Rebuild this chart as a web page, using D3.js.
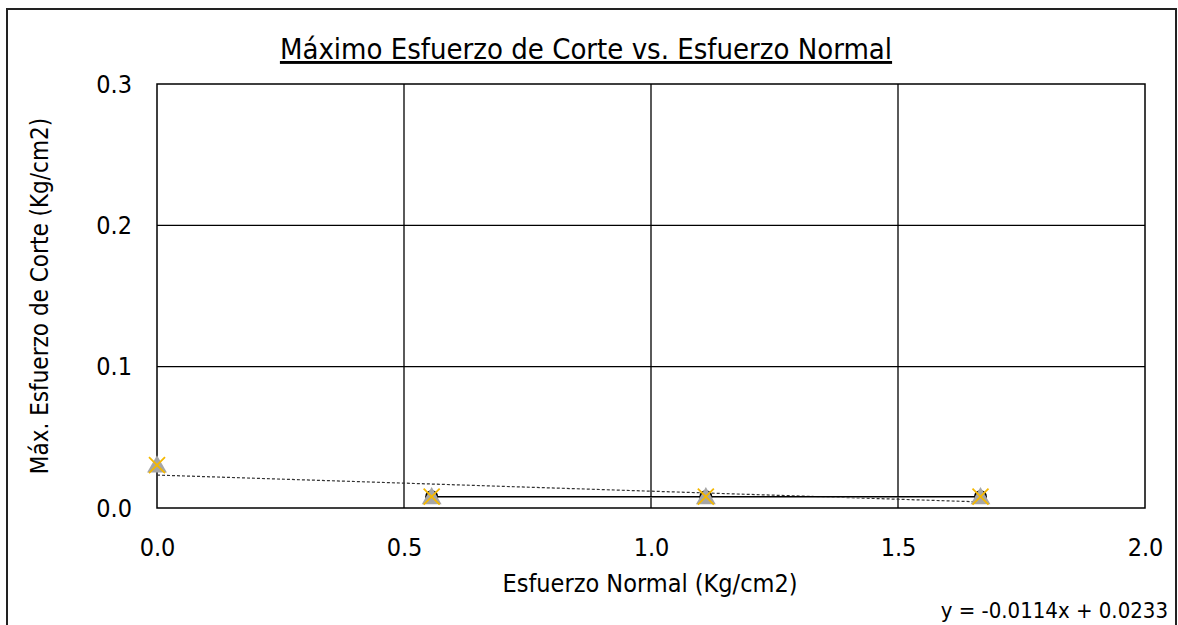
<!DOCTYPE html>
<html>
<head>
<meta charset="utf-8">
<script src="https://cdn.jsdelivr.net/npm/d3@7"></script>
<style>
  html, body { margin: 0; padding: 0; background: #fff; }
  svg { display: block; }
  text { font-family: "DejaVu Sans Condensed", "DejaVu Sans", sans-serif; fill: #000; }
</style>
</head>
<body>
<svg id="chart" width="1178" height="625"></svg>
<script>
// datos
var normal   = [0, 0.556, 1.111, 1.667];
var circulos = [null, 0.0080, 0.0080, 0.0080];
var triang   = [0.0303, 0.0078, 0.0078, 0.0078];
var cruces   = [0.0303, 0.0080, 0.0080, 0.0080];
var xTicks = [0, 0.5, 1.0, 1.5, 2.0];
var yTicks = [0, 0.1, 0.2, 0.3];
var pendiente = -0.0114, intercepto = 0.0233;

var m = { left: 157, right: 1145, top: 84, bottom: 508 };
var svg = d3.select("#chart");

var x = d3.scaleLinear().domain([0, 2]).range([m.left, m.right]);
var y = d3.scaleLinear().domain([0, 0.3]).range([m.bottom, m.top]);

// marco exterior
svg.append("rect").attr("x", 7).attr("y", 9).attr("width", 1169).attr("height", 640)
  .attr("fill", "#fff").attr("stroke", "#222").attr("stroke-width", 2);

// rejilla
var grid = svg.append("g");
grid.selectAll("line.v").data(xTicks.slice(1, -1)).enter().append("line")
  .attr("x1", function (d) { return x(d); }).attr("x2", function (d) { return x(d); })
  .attr("y1", m.top).attr("y2", m.bottom).attr("stroke", "#000").attr("stroke-width", 1.3);
grid.selectAll("line.h").data(yTicks.slice(1, -1)).enter().append("line")
  .attr("y1", function (d) { return y(d); }).attr("y2", function (d) { return y(d); })
  .attr("x1", m.left).attr("x2", m.right).attr("stroke", "#000").attr("stroke-width", 1.3);
svg.append("rect").attr("x", m.left).attr("y", m.top)
  .attr("width", m.right - m.left).attr("height", m.bottom - m.top)
  .attr("fill", "none").attr("stroke", "#000").attr("stroke-width", 1.5);

// ejes (solo etiquetas)
var xAxis = svg.append("g").attr("transform", "translate(0," + m.bottom + ")")
  .call(d3.axisBottom(x).tickValues(xTicks).tickFormat(d3.format(".1f")).tickSize(0).tickPadding(30));
var yAxis = svg.append("g").attr("transform", "translate(" + m.left + ",0)")
  .call(d3.axisLeft(y).tickValues(yTicks).tickFormat(d3.format(".1f")).tickSize(0).tickPadding(25));
[xAxis, yAxis].forEach(function (a) {
  a.select(".domain").remove();
  a.selectAll("text").attr("font-size", 25).attr("font-family", "DejaVu Sans Condensed, DejaVu Sans, sans-serif").attr("fill", "#000");
});

// tendencia (punteada)
var tx = d3.extent(normal);
svg.append("line")
  .attr("x1", x(tx[0])).attr("y1", y(intercepto + pendiente * tx[0]))
  .attr("x2", x(tx[1])).attr("y2", y(intercepto + pendiente * tx[1]))
  .attr("stroke", "#333").attr("stroke-width", 1.2).attr("stroke-dasharray", "3,2");

function pares(vals) {
  return normal.map(function (n, i) { return [n, vals[i]]; })
    .filter(function (p) { return p[1] != null; });
}
var linea = d3.line().x(function (p) { return x(p[0]); }).y(function (p) { return y(p[1]); });

svg.append("path").attr("d", linea(pares(triang).slice(1))).attr("fill", "none")
  .attr("stroke", "#888").attr("stroke-width", 1.5);
svg.append("path").attr("d", linea(pares(circulos))).attr("fill", "none")
  .attr("stroke", "#000").attr("stroke-width", 1.2);

// marcadores
svg.selectAll("circle.c").data(pares(circulos)).enter().append("circle")
  .attr("cx", function (p) { return x(p[0]); }).attr("cy", function (p) { return y(p[1]); })
  .attr("r", 6.5).attr("fill", "#000");
var tri = d3.symbol().type(d3.symbolTriangle).size(170);
svg.selectAll("path.t").data(pares(triang)).enter().append("path")
  .attr("d", tri).attr("fill", "#a6a6a6")
  .attr("transform", function (p) { return "translate(" + x(p[0]) + "," + (y(p[1]) + 1.5) + ")"; });
svg.selectAll("path.x").data(pares(cruces)).enter().append("path")
  .attr("d", "M-8,-8L8,8M8,-8L-8,8").attr("fill", "none").attr("stroke", "#f5b800").attr("stroke-width", 1.8)
  .attr("transform", function (p) { return "translate(" + x(p[0]) + "," + y(p[1]) + ")"; });

// textos
svg.append("text").attr("x", 586).attr("y", 59)
  .attr("text-anchor", "middle").attr("font-size", 29).attr("text-decoration", "underline")
  .text("Máximo Esfuerzo de Corte vs. Esfuerzo Normal");
svg.append("text").attr("x", 650).attr("y", 592)
  .attr("text-anchor", "middle").attr("font-size", 25).text("Esfuerzo Normal (Kg/cm2)");
svg.append("text").attr("transform", "translate(48," + ((m.top + m.bottom) / 2) + ") rotate(-90)")
  .attr("text-anchor", "middle").attr("font-size", 24).text("Máx. Esfuerzo de Corte (Kg/cm2)");
svg.append("text").attr("x", 1168).attr("y", 618).attr("text-anchor", "end").attr("font-size", 22)
  .attr("font-family", "Liberation Sans, Arial, sans-serif")
  .text("y = " + pendiente + "x + " + intercepto);
</script>
</body>
</html>
